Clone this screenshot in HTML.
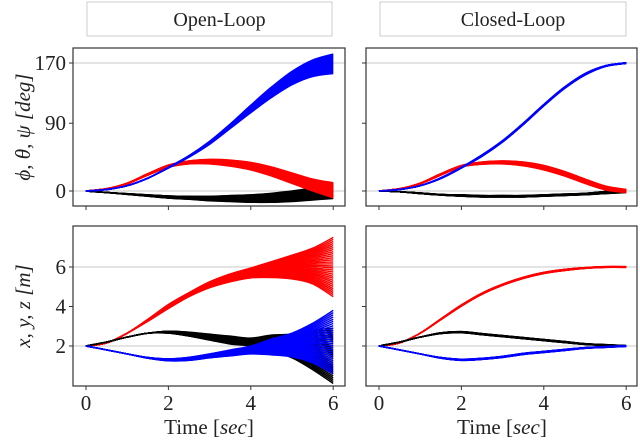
<!DOCTYPE html>
<html><head><meta charset="utf-8"><style>
body{margin:0;background:#fff;width:640px;height:441px;overflow:hidden}
svg{display:block}
text{font-family:"Liberation Serif",serif;fill:#222}
</style></head><body>
<svg id="c" width="640" height="441"></svg>
<script>
const times=[0,0.5,1,1.5,2,2.5,3,3.5,4,4.5,5,5.5,6];
// Open-loop angles (deg)
const olYaw=[0,2,7,17,31,46,64,86,109,131,150,163,169];
const olYawSpread=[0,0,0,0,0.5,1,2,3,5,7,9,11,13];
const olPitch=[0,3,10,22,33,38,39,37,33,26,17,8,1];
const olPitchSpread=[0,0,0.5,1,1.5,2,3,4,5,6,7,8,10];
const olRoll=[0,-2,-4,-6,-8,-9,-10,-10,-10,-9,-7,-4,0];
const olRollSpread=[0,0,0.5,1,1.5,2,3,4,5,6,7,8,10];
// Closed-loop angles
const clYaw=[0,2,7,17,31,47,66,89,114,137,155,166,170];
const clYawSpread=[0,0,0,0.5,0.5,1,1,1,1,1,1,0.5,0.5];
const clPitch=[0,3,10,22,33,37,38,36,31,23,13,4,0];
const clPitchSpread=[0,0,0.5,1,1,1.5,2,2.5,3,3,3,2.5,2];
const clRoll=[0,-1,-3,-5,-6,-7,-7,-7,-6,-5,-4,-2,0];
const clRollSpread=[0,0,0.5,0.5,1,1,1,1,1,1,1,1.5,2];
// Open-loop positions (m)
const olX=[2,2.15,2.65,3.3,4.0,4.6,5.1,5.45,5.7,5.87,6.0,6.05,6.0];
const olXSpread=[0,0,0,0.05,0.1,0.1,0.15,0.2,0.25,0.4,0.6,0.9,1.5];
const olY=[2,2.2,2.45,2.65,2.7,2.6,2.45,2.3,2.2,2.15,2.0,1.8,1.5];
const olYSpread=[0,0,0,0,0.05,0.1,0.15,0.2,0.2,0.4,0.6,1.0,1.4];
const olZ=[2,1.8,1.6,1.4,1.3,1.35,1.5,1.65,1.8,1.95,2.05,2.15,2.2];
const olZSpread=[0,0,0,0.02,0.05,0.08,0.1,0.15,0.2,0.4,0.6,1.0,1.6];
// Closed-loop positions
const clX=[2,2.15,2.65,3.35,4.05,4.65,5.1,5.45,5.7,5.85,5.95,6.0,6.0];
const clY=[2,2.2,2.45,2.65,2.7,2.6,2.5,2.4,2.3,2.2,2.1,2.05,2.0];
const clZ=[2,1.8,1.6,1.4,1.3,1.35,1.45,1.6,1.7,1.8,1.9,1.95,2.0];
const clPosSpread=[0,0,0,0.02,0.03,0.03,0.03,0.03,0.03,0.03,0.02,0.02,0.02];
const xTicks=[0,2,4,6];
const angTicks=[0,90,170];
const posTicks=[2,4,6];

const NS="http://www.w3.org/2000/svg";
const svg=document.getElementById('c');
function el(tag,attrs,parent){const e=document.createElementNS(NS,tag);for(const k in attrs)e.setAttribute(k,attrs[k]);(parent||svg).appendChild(e);return e;}
const panels={
 olAng:{x0:73,x1:345,y0:48,y1:206,fy:v=>191-v*0.7529},
 clAng:{x0:366,x1:637,y0:48,y1:206,fy:v=>191-v*0.7529},
 olPos:{x0:73,x1:345,y0:226,y1:386,fy:v=>346-(v-2)*19.75},
 clPos:{x0:366,x1:637,y0:226,y1:386,fy:v=>346-(v-2)*19.75}
};
function fx(p,t){return p.x0+13+t*41.2;}
function smooth(pts){
 let d='M'+pts[0][0].toFixed(1)+','+pts[0][1].toFixed(1);
 for(let i=0;i<pts.length-1;i++){
  const p0=pts[Math.max(0,i-1)],p1=pts[i],p2=pts[i+1],p3=pts[Math.min(pts.length-1,i+2)];
  const c1x=p1[0]+(p2[0]-p0[0])/6,c1y=p1[1]+(p2[1]-p0[1])/6;
  const c2x=p2[0]-(p3[0]-p1[0])/6,c2y=p2[1]-(p3[1]-p1[1])/6;
  d+='C'+c1x.toFixed(1)+','+c1y.toFixed(1)+' '+c2x.toFixed(1)+','+c2y.toFixed(1)+' '+p2[0].toFixed(1)+','+p2[1].toFixed(1);
 }
 return d;
}
function grid(p,vals,name){
 for(const v of vals){
  const g=el('line',{x1:p.x0,x2:p.x1,y1:p.fy(v),y2:p.fy(v),stroke:'#c8c8c8','stroke-width':1});
  
  
 }
}
function band(p,mean,spread,color,name){
 const N=30;
 const g=el('g',{});
 
 
 for(let k=0;k<N;k++){
  const f=k/(N-1)*2-1;
  const pts=times.map((t,i)=>[fx(p,t),p.fy(mean[i]+spread[i]*f)]);
  const l=el('path',{d:smooth(pts),fill:'none',stroke:color,'stroke-width':1.4},g);
  
  
 }
}
function frame(p,name,yt,showY,showX){
 const r=el('rect',{x:p.x0,y:p.y0,width:p.x1-p.x0,height:p.y1-p.y0,fill:'none',stroke:'#333','stroke-width':1.2});
 
 
 for(const v of yt){
  const tk=el('line',{x1:p.x0-4,x2:p.x0,y1:p.fy(v),y2:p.fy(v),stroke:'#333'});
  
  
  if(showY){const tx=el('text',{x:p.x0-7,y:p.fy(v)+7,'text-anchor':'end','font-size':21});tx.textContent=v;
   
   }
 }
 for(const t of xTicks){
  const tk=el('line',{x1:fx(p,t),x2:fx(p,t),y1:p.y1,y2:p.y1+4,stroke:'#333'});
  
  
  if(showX){const tx=el('text',{x:fx(p,t),y:p.y1+24,'text-anchor':'middle','font-size':21});tx.textContent=t;
   
   }
 }
}
const P=panels;
grid(P.olAng,[0,170],'open-angle');grid(P.clAng,[0,170],'closed-angle');
grid(P.olPos,[2,6],'open-pos');grid(P.clPos,[2,6],'closed-pos');
band(P.olAng,olRoll,olRollSpread,'#000','open-roll');
band(P.olAng,olPitch,olPitchSpread,'#f00','open-pitch');
band(P.olAng,olYaw,olYawSpread,'#00f','open-yaw');
band(P.clAng,clRoll,clRollSpread,'#000','closed-roll');
band(P.clAng,clPitch,clPitchSpread,'#f00','closed-pitch');
band(P.clAng,clYaw,clYawSpread,'#00f','closed-yaw');
band(P.olPos,olX,olXSpread,'#f00','open-x');
band(P.olPos,olY,olYSpread,'#000','open-y');
band(P.olPos,olZ,olZSpread,'#00f','open-z');
band(P.clPos,clX,clPosSpread,'#f00','closed-x');
band(P.clPos,clY,clPosSpread,'#000','closed-y');
band(P.clPos,clZ,clPosSpread,'#00f','closed-z');
frame(P.olAng,'open-angle',angTicks,true,false);
frame(P.clAng,'closed-angle',angTicks,false,false);
frame(P.olPos,'open-pos',posTicks,true,true);
frame(P.clPos,'closed-pos',posTicks,false,true);
[[87,332,'Open-Loop','open-loop-title'],[380,626,'Closed-Loop','closed-loop-title']].forEach(a=>{
 const r=el('rect',{x:a[0],y:2,width:a[1]-a[0],height:34,fill:'#fff',stroke:'#ccc','stroke-width':1});
 
 
 const t=el('text',{x:(a[0]+a[1])/2+10,y:26,'text-anchor':'middle','font-size':20});t.textContent=a[2];
 
 
});
const yl1=el('text',{transform:'translate(30,127) rotate(-90)','text-anchor':'middle','font-size':21,'font-style':'italic'});
yl1.textContent='ϕ, θ, ψ [deg]';


const yl2=el('text',{transform:'translate(30,306) rotate(-90)','text-anchor':'middle','font-size':21,'font-style':'italic'});
yl2.textContent='x, y, z [m]';


[[209,'open-x-axis-title'],[502,'closed-x-axis-title']].forEach(a=>{
 const t=el('text',{x:a[0],y:434,'text-anchor':'middle','font-size':21});
 t.innerHTML='Time [<tspan font-style="italic">sec</tspan>]';
 
 
});
</script>
</body></html>
